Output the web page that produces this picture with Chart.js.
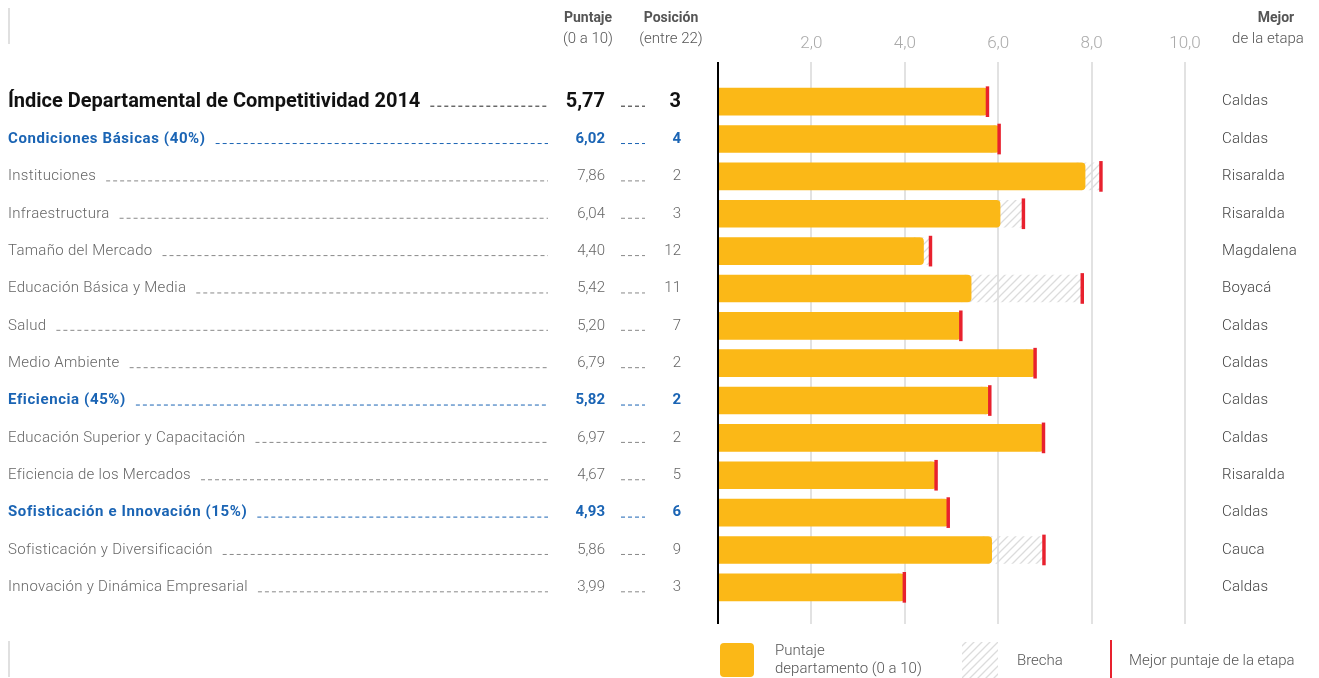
<!DOCTYPE html>
<html>
<head>
  <meta charset="UTF-8">
  <title>Índice Departamental de Competitividad 2014</title>
  <script src="https://cdn.jsdelivr.net/npm/chart.js"></script>
  <style>
    html, body { margin: 0; padding: 0; background: #fff; }
    #wrap { width: 1319px; height: 678px; position: relative; }
  </style>
</head>
<body>
  <div id="wrap"><canvas id="chart"></canvas></div>

  <script>
    // Datos
    const labels = [
      'Índice Departamental de Competitividad 2014',
      'Condiciones Básicas (40%)',
      'Instituciones',
      'Infraestructura',
      'Tamaño del Mercado',
      'Educación Básica y Media',
      'Salud',
      'Medio Ambiente',
      'Eficiencia (45%)',
      'Educación Superior y Capacitación',
      'Eficiencia de los Mercados',
      'Sofisticación e Innovación (15%)',
      'Sofisticación y Diversificación',
      'Innovación y Dinámica Empresarial'
    ];
    const scores = [5.77, 6.02, 7.86, 6.04, 4.40, 5.42, 5.20, 6.79, 5.82, 6.97, 4.67, 4.93, 5.86, 3.99];
    const positions = [3, 4, 2, 3, 12, 11, 7, 2, 2, 2, 5, 6, 9, 3];
    const bestScores = [5.77, 6.02, 8.20, 6.54, 4.55, 7.80, 5.20, 6.79, 5.82, 6.97, 4.67, 4.93, 6.98, 3.99];
    const bestDept = ['Caldas', 'Caldas', 'Risaralda', 'Risaralda', 'Magdalena', 'Boyacá', 'Caldas',
                      'Caldas', 'Caldas', 'Caldas', 'Risaralda', 'Caldas', 'Cauca', 'Caldas'];
    // 0 = índice general, 1 = pilar, 2 = subpilar
    const levels = [0, 1, 2, 2, 2, 2, 2, 2, 1, 2, 2, 1, 2, 2];
    const xTicks = [2, 4, 6, 8, 10];

    const YELLOW = '#fbb817';
    const RED = '#e8212e';
    const BLUE = '#1a64b4';
    const GREY = '#666';
    const FONT = 'Roboto, "Open Sans", sans-serif';

    const fmt = v => v.toFixed(2).replace('.', ',');

    // patrón rayado para la brecha
    function makeHatch() {
      const c = document.createElement('canvas');
      c.width = 8; c.height = 8;
      const g = c.getContext('2d');
      g.strokeStyle = '#dcdcdc';
      g.lineWidth = 1.3;
      g.beginPath();
      g.moveTo(0, 8); g.lineTo(8, 0);
      g.moveTo(-4, 4); g.lineTo(4, -4);
      g.moveTo(4, 12); g.lineTo(12, 4);
      g.stroke();
      return g.createPattern(c, 'repeat');
    }
    const hatch = makeHatch();

    function leader(ctx, x1, x2, y, color) {
      if (x2 <= x1) return;
      ctx.save();
      ctx.strokeStyle = color;
      ctx.lineWidth = 1;
      ctx.setLineDash([4, 3]);
      ctx.beginPath();
      ctx.moveTo(x1, y + 0.5);
      ctx.lineTo(x2, y + 0.5);
      ctx.stroke();
      ctx.restore();
    }

    // rejilla y eje vertical (se prolongan media fila arriba y abajo)
    const gridPlugin = {
      id: 'gridPlugin',
      beforeDatasetsDraw(chart) {
        const { ctx, chartArea, scales } = chart;
        const top = chartArea.top - 21, bottom = chartArea.bottom + 18;
        ctx.save();
        ctx.strokeStyle = '#e2e2e2';
        ctx.lineWidth = 2;
        xTicks.forEach(t => {
          const x = Math.round(scales.x.getPixelForValue(t));
          ctx.beginPath();
          ctx.moveTo(x, top);
          ctx.lineTo(x, bottom);
          ctx.stroke();
        });
        ctx.restore();
      },
      afterDatasetsDraw(chart) {
        const { ctx, chartArea, scales } = chart;
        const x = scales.x.getPixelForValue(0);
        ctx.save();
        ctx.strokeStyle = '#000';
        ctx.lineWidth = 2;
        ctx.beginPath();
        ctx.moveTo(x, chartArea.top - 21);
        ctx.lineTo(x, chartArea.bottom + 18);
        ctx.stroke();
        ctx.restore();
      }
    };

    // tabla izquierda, columna derecha y leyenda
    const tablePlugin = {
      id: 'tablePlugin',
      afterDraw(chart) {
        const { ctx, scales } = chart;
        ctx.save();
        ctx.textBaseline = 'middle';

        // encabezados
        ctx.fillStyle = '#555';
        ctx.textAlign = 'center';
        ctx.font = 'bold 14px ' + FONT;
        ctx.fillText('Puntaje', 588, 18);
        ctx.fillText('Posición', 671, 18);
        ctx.fillText('Mejor', 1276, 18);
        ctx.font = '300 15px ' + FONT;
        ctx.fillText('(0 a 10)', 588, 39);
        ctx.fillText('(entre 22)', 671, 39);
        ctx.fillText('de la etapa', 1268, 39);

        // líneas grises decorativas
        ctx.strokeStyle = '#e0e0e0';
        ctx.lineWidth = 2;
        ctx.beginPath();
        ctx.moveTo(9, 8); ctx.lineTo(9, 44);
        ctx.moveTo(9, 641); ctx.lineTo(9, 677);
        ctx.stroke();

        labels.forEach((lab, i) => {
          const y = scales.y.getPixelForValue(i);
          const lv = levels[i];
          let color, font, spacing;
          if (lv === 0) { color = '#111'; font = 'bold 20px ' + FONT; spacing = '0px'; }
          else if (lv === 1) { color = BLUE; font = 'bold 15px ' + FONT; spacing = '0.6px'; }
          else { color = GREY; font = '300 15px ' + FONT; spacing = '0.3px'; }
          ctx.font = font;
          ctx.letterSpacing = spacing;
          ctx.fillStyle = color;
          ctx.textAlign = 'left';
          ctx.fillText(lab, 8, y);
          const w = ctx.measureText(lab).width;
          const dash = lv === 0 ? '#222' : (lv === 1 ? BLUE : '#888');
          leader(ctx, 8 + w + 10, 548, y + 4, dash);

          ctx.letterSpacing = '0px';
          ctx.textAlign = 'right';
          ctx.fillText(fmt(scores[i]), 605, y);
          leader(ctx, 621, 645, y + 4, dash);
          ctx.fillText(String(positions[i]), 681, y);

          ctx.font = '300 15px ' + FONT;
          ctx.letterSpacing = '0.2px';
          ctx.fillStyle = '#444';
          ctx.textAlign = 'left';
          ctx.fillText(bestDept[i], 1222, y);
          ctx.letterSpacing = '0px';
        });

        // leyenda
        ctx.fillStyle = YELLOW;
        ctx.beginPath();
        ctx.roundRect(720, 643, 34, 34, 4);
        ctx.fill();
        ctx.fillStyle = hatch;
        ctx.fillRect(962, 642, 36, 36);
        ctx.strokeStyle = RED;
        ctx.lineWidth = 2;
        ctx.beginPath();
        ctx.moveTo(1111, 640); ctx.lineTo(1111, 678);
        ctx.stroke();

        ctx.fillStyle = '#555';
        ctx.font = '300 15px ' + FONT;
        ctx.textAlign = 'left';
        ctx.fillText('Puntaje', 775, 651);
        ctx.fillText('departamento (0 a 10)', 775, 669);
        ctx.fillText('Brecha', 1017, 661);
        ctx.fillText('Mejor puntaje de la etapa', 1129, 661);
        ctx.restore();
      }
    };

    new Chart(document.getElementById('chart'), {
      type: 'bar',
      data: {
        labels: labels,
        datasets: [
          {
            label: 'Mejor puntaje de la etapa',
            data: bestScores.map(b => [b - 0.03, b + 0.03]),
            backgroundColor: RED,
            barThickness: 30,
            borderSkipped: false,
            grouped: false
          },
          {
            label: 'Puntaje departamento (0 a 10)',
            data: scores,
            backgroundColor: YELLOW,
            borderRadius: 4,
            barThickness: 27,
            grouped: false
          },
          {
            label: 'Brecha',
            data: scores.map((s, i) => [s - 0.2, bestScores[i]]),
            backgroundColor: hatch,
            barThickness: 27,
            borderSkipped: false,
            grouped: false
          }
        ]
      },
      options: {
        indexAxis: 'y',
        responsive: true,
        maintainAspectRatio: false,
        animation: false,
        layout: { padding: { left: 718, right: 134, top: 0, bottom: 72 } },
        plugins: { legend: { display: false }, tooltip: { enabled: false } },
        scales: {
          x: {
            position: 'top',
            min: 0,
            max: 10,
            afterFit(axis) { axis.height = 83; },
            afterBuildTicks(axis) { axis.ticks = xTicks.map(v => ({ value: v })); },
            ticks: {
              color: '#aaa',
              padding: 21,
              font: { family: FONT, size: 17, weight: '300' },
              callback: v => v.toFixed(1).replace('.', ',')
            },
            grid: { display: false },
            border: { display: false }
          },
          y: {
            display: false,
            offset: true
          }
        }
      },
      plugins: [gridPlugin, tablePlugin]
    });
  </script>
</body>
</html>
